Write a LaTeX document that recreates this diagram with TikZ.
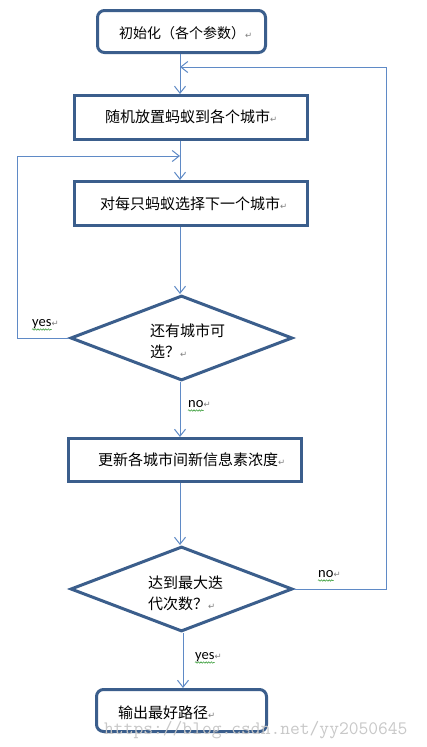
\documentclass[tikz,border=0pt]{standalone}
\usepackage{fontspec}
\newfontfamily\cjk{Noto Sans CJK SC}
\newfontfamily\dejavu{DejaVu Sans}
\newfontfamily\carl{Carlito}
\usetikzlibrary{shapes.geometric,arrows.meta,decorations.pathmorphing}
\definecolor{boxblue}{HTML}{3B5E8C}
\definecolor{lineblue}{HTML}{5F8AC6}
\definecolor{retgray}{HTML}{7F7F7F}
\definecolor{wmgray}{HTML}{C8C8C8}
\definecolor{spellgreen}{HTML}{3FA03F}
\newcommand\retmk{{\dejavu\fontsize{8.5}{8.5}\selectfont\textcolor{retgray}{↵}}}
\begin{document}
\begin{tikzpicture}[x=1pt,y=-1pt,
  procbox/.style={draw=boxblue, line width=3pt, fill=white, inner sep=0pt},
  roundbox/.style={procbox, rounded corners=7pt},
  decbox/.style={diamond, draw=boxblue, line width=3pt, fill=white, inner sep=0pt, aspect=2.6},
  cjktext/.style={anchor=west, inner sep=0pt, font=\cjk\fontsize{15}{21}\selectfont, align=left},
  lbl/.style={anchor=base west, inner sep=0pt, font=\carl\fontsize{14.5}{14.5}\selectfont},
  retnode/.style={anchor=base west, inner sep=0pt, outer sep=0pt},
  wavy/.style={draw=spellgreen, line width=0.6pt, decorate, decoration={snake, amplitude=0.7pt, segment length=2.6pt}},
  conn/.style={draw=lineblue, line width=1pt},
  arr/.style={conn, -{Straight Barb[length=7pt, width=11pt, line width=1pt]}}
]
\useasboundingbox (0,0) rectangle (426,747);
\fill[white] (0,0) rectangle (426,747);

\coordinate (mx) at (180,0);
\coordinate (rt) at (386,67);
\coordinate (lt) at (17,156);

% boxes
\node[roundbox, minimum width=168pt, minimum height=42pt] (b1) at (181.5,31.5) {};
\node[procbox, minimum width=233pt, minimum height=44pt] (b2) at (191,117.5) {};
\node[procbox, minimum width=233pt, minimum height=44pt] (b3) at (191,203.5) {};
\node[decbox, minimum width=222pt, minimum height=85pt] (d1) at (181.5,338) {};
\node[procbox, minimum width=233pt, minimum height=43pt] (b4) at (185,460) {};
\node[decbox, minimum width=222pt, minimum height=85pt] (d2) at (181.5,589) {};
\node[roundbox, minimum width=170pt, minimum height=42pt] (b5) at (181.5,710.5) {};

% texts
\node[cjktext] (t1) at (119,33) {\fontsize{14}{14}\selectfont 初始化（各个参数）\retmk};
\node[cjktext] (t2) at (105,117) {随机放置蚂蚁到各个城市\retmk};
\node[cjktext] (t3) at (100,204) {对每只蚂蚁选择下一个城市\retmk};
\node[cjktext] (t4) at (150,341) {还有城市可\\选？\retmk};
\node[cjktext] (t5) at (98,460) {更新各城市间新信息素浓度\retmk};
\node[cjktext] (t6) at (148,593) {达到最大迭\\代次数？\retmk};
\node[cjktext] (t7) at (118,712.5) {输出最好路径\retmk};

% connectors
\draw[arr] (b1.south -| mx) -- (b2.north -| mx);
\draw[arr] (b2.south -| mx) -- (b3.north -| mx);
\draw[arr] (b3.south -| mx) -- (d1.north -| mx);
\draw[arr] (d1.south -| mx) -- (b4.north -| mx);
\draw[arr] (b4.south -| mx) -- (d2.north -| mx);
\coordinate (my) at (183,0);
\draw[arr] (d2.south -| my) -- (b5.north -| my);
\draw[arr] (d1.west) -- (d1.west -| lt) -- (lt) -- (lt -| mx);
\draw[arr] (d2.east) -- (d2.east -| rt) -- (rt) -- (rt -| mx);

% labels
\node[lbl] (yes1) at (32,326) {yes};
\node[retnode] (ry1) at (yes1.base east) {\retmk};
\node[lbl] (no1) at (188,407) {no};
\node[retnode] (rn1) at (no1.base east) {\retmk};
\node[lbl] (no2) at (318,577) {no};
\node[retnode] (rn2) at (no2.base east) {\retmk};
\node[lbl] (yes2) at (195,659) {yes};
\node[retnode] (ry2) at (yes2.base east) {\retmk};
\foreach \w in {yes1,no1,no2,yes2}{
  \draw[wavy] ([yshift=-3.5pt]\w.base west) -- ([yshift=-3.5pt]\w.base east);
}

% watermark
\node[anchor=base west, inner sep=0pt, text=wmgray, font=\ttfamily\fontsize{19}{19}\selectfont] (wm) at (104,734.5) {https://blog.csdn.net/yy2050645};
\end{tikzpicture}
\end{document}
